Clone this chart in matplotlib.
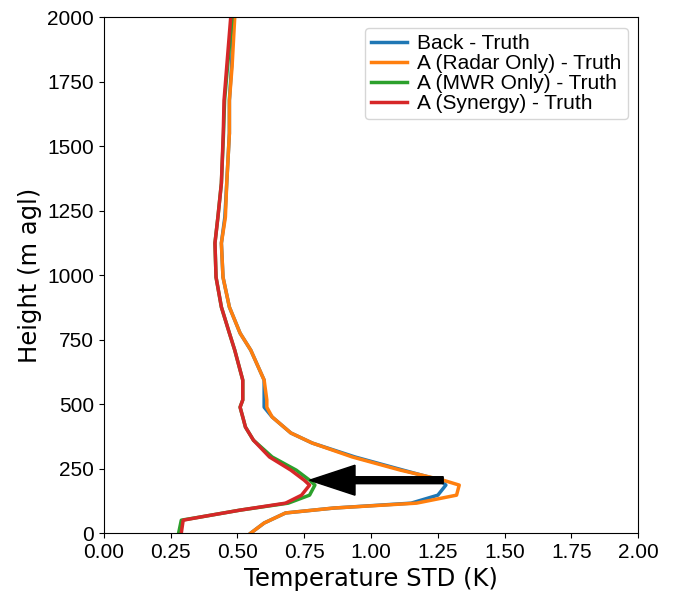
import numpy as np
import matplotlib
matplotlib.use('Agg')
import matplotlib.pyplot as plt

plt.rcParams['font.family'] = ['Liberation Sans', 'DejaVu Sans']

# heights (m agl) and temperature std (K)
h_hi = [0, 39, 78, 97, 116, 147, 186, 205, 244, 295, 349, 388, 450, 488, 516,
        593, 709, 775, 876, 992, 1124, 1225, 1356, 1550, 1678, 1808, 2000]
radar = [0.55, 0.60, 0.68, 0.86, 1.17, 1.32, 1.33, 1.27, 1.11, 0.93, 0.78, 0.70,
         0.63, 0.61, 0.61, 0.60, 0.55, 0.51, 0.47, 0.446, 0.44, 0.455, 0.46,
         0.47, 0.47, 0.48, 0.49]
back = [0.55, 0.60, 0.68, 0.86, 1.15, 1.25, 1.28, 1.26, 1.12, 0.94, 0.78, 0.70,
        0.63, 0.60, 0.60, 0.60, 0.55, 0.51, 0.47, 0.446, 0.44, 0.453, 0.46,
        0.47, 0.47, 0.478, 0.485]
h_lo = [0, 50, 62, 89, 116, 147, 186, 205, 244, 295, 360, 411, 450, 488, 516,
        593, 709, 775, 876, 992, 1124, 1225, 1356, 1550, 1678, 1808, 2000]
synergy = [0.29, 0.297, 0.36, 0.51, 0.68, 0.74, 0.77, 0.75, 0.70, 0.62, 0.56, 0.53,
           0.52, 0.51, 0.52, 0.52, 0.49, 0.47, 0.44, 0.42, 0.416, 0.427, 0.44,
           0.447, 0.45, 0.46, 0.475]
mwr = [0.28, 0.29, 0.36, 0.51, 0.69, 0.77, 0.79, 0.77, 0.72, 0.63, 0.56, 0.53,
       0.52, 0.51, 0.52, 0.52, 0.49, 0.47, 0.44, 0.42, 0.416, 0.427, 0.44,
       0.448, 0.452, 0.463, 0.48]

fig = plt.figure(figsize=(6.74, 5.91), dpi=100)
ax = fig.add_axes([0.154, 0.098, 0.793, 0.873])

ax.plot(back, h_hi, color='#1f77b4', lw=2.5, label='Back - Truth')
ax.plot(radar, h_hi, color='#ff7f0e', lw=2.5, label='A (Radar Only) - Truth')
ax.plot(mwr, h_lo, color='#2ca02c', lw=2.5, label='A (MWR Only) - Truth')
ax.plot(synergy, h_lo, color='#d62728', lw=2.5, label='A (Synergy) - Truth')

ax.arrow(1.27, 205, -0.5, 0, width=27, head_width=116, head_length=0.17,
         length_includes_head=True, color='k', zorder=5)

ax.set_xlim(0, 2)
ax.set_ylim(0, 2000)
ax.set_xticks(np.arange(0, 2.01, 0.25))
ax.set_yticks(np.arange(0, 2001, 250))
ax.tick_params(labelsize=15)
ax.set_xlabel('Temperature STD (K)', fontsize=17.5, family='DejaVu Sans')
ax.set_ylabel('Height (m agl)', fontsize=17.5, family='DejaVu Sans')
ax.legend(loc='upper right', fontsize=15, handlelength=1.7, handletextpad=0.5,
          borderpad=0.3, labelspacing=0.05)

fig.savefig('out.png', dpi=100)
